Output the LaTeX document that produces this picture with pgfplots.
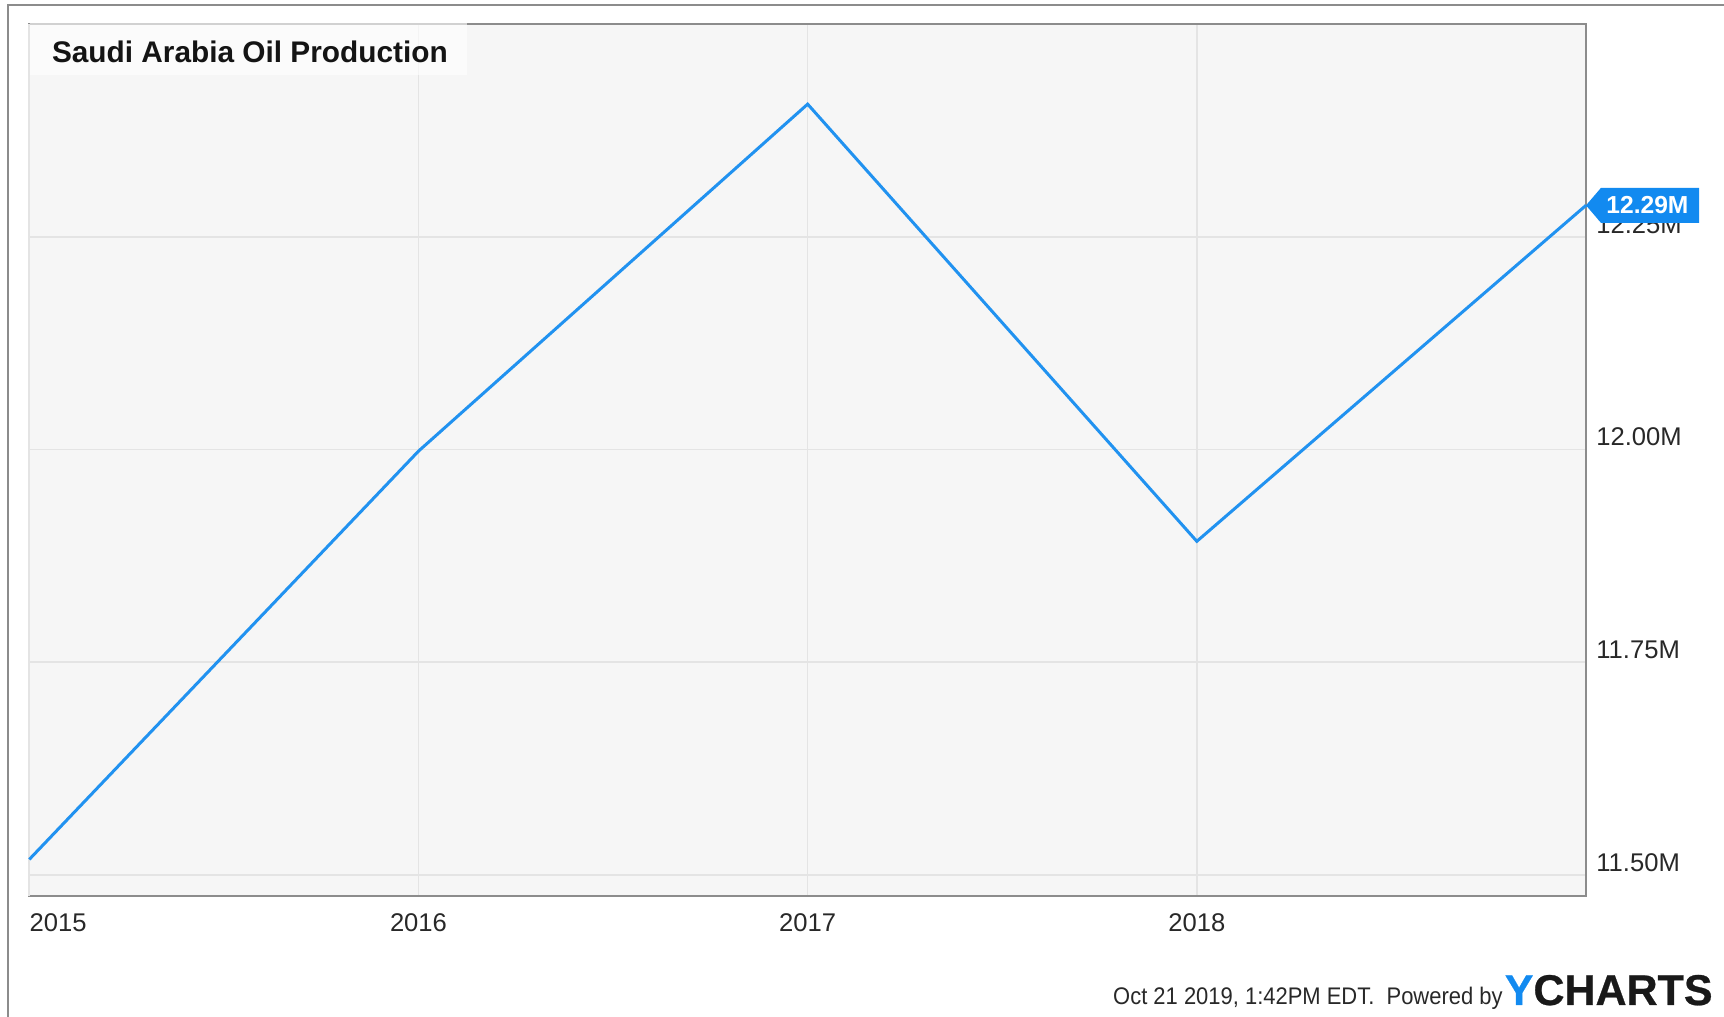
\documentclass[border=0pt]{standalone}
\usepackage{pgfplots}
\pgfplotsset{compat=1.18}
\usepackage{fontspec}
\setmainfont{Liberation Sans}
\newfontfamily\ychfont[FakeBold=0.6]{Liberation Sans Bold}
\usepackage{graphicx}
\definecolor{ylinecol}{RGB}{33,146,240}
\definecolor{ytagcol}{RGB}{18,138,240}
\definecolor{plotbg}{RGB}{246,246,246}
\definecolor{gridcol}{RGB}{228,228,228}
\definecolor{framecol}{RGB}{140,140,140}
\definecolor{labcol}{RGB}{40,40,40}
\begin{document}
\begin{tikzpicture}[x=1pt,y=1pt]
\useasboundingbox (0,0) rectangle (862,508.5);
\draw[line width=1pt, color=framecol] (4.2,0) -- (4.2,505.8) -- (862,505.8);
\begin{axis}[
  at={(14.65pt,60.5pt)}, anchor=south west,
  scale only axis, width=778.35pt, height=435.9pt,
  xmin=2015, xmax=2019, ymin=11.475, ymax=12.50,
  clip=false,
  axis background/.style={fill=plotbg},
  axis line style={framecol, line width=1pt},
  grid=major,
  major grid style={gridcol, line width=0.8pt},
  tick style={draw=none},
  major tick length=0pt,
  xtick={2016,2017,2018}, xticklabels={2016,2017,2018},
  extra x ticks={2015}, extra x tick labels={2015},
  extra x tick style={xticklabel style={anchor=base west}},
  xticklabel style={font=\fontsize{12.8}{14}\selectfont, text=labcol, inner sep=0pt, anchor=base, yshift=-17.8pt},
  ytick={11.5,11.75,12,12.25},
  yticklabels={11.50M,11.75M,12.00M,12.25M},
  yticklabel pos=right,
  yticklabel style={font=\fontsize{12.8}{14}\selectfont, text=labcol, inner sep=0pt, anchor=base west, xshift=5pt, yshift=1.8pt},
]
\addplot[ylinecol, line width=1.5pt, mark=none] coordinates {
  (2015,11.518) (2016,11.998) (2017,12.406) (2018,11.892) (2019,12.287)
};
\fill[ytagcol] (axis cs:2019,12.287) -- ++(7.5pt,8.75pt) -- ++(49pt,0pt) -- ++(0pt,-17.5pt) -- ++(-49pt,0pt) -- cycle;
\node[text=white, font=\bfseries\fontsize{12.3}{14}\selectfont, anchor=west, inner sep=0pt] at ([xshift=10pt]axis cs:2019,12.287) {12.29M};
\end{axis}
\fill[white, opacity=0.6] (15.2,471.1) rectangle (233.5,497);
\node[anchor=base west, inner sep=0pt, font=\bfseries\fontsize{14.9}{17}\selectfont, text=black!92] at (25.8,477.4) {Saudi Arabia Oil Production};
\node[anchor=base east, inner sep=0pt, font=\fontsize{12}{14}\selectfont, text=labcol] at (751.5,6) {\scalebox{0.915}[1]{Oct 21 2019, 1:42PM EDT.\ \ Powered by}};
\node[anchor=base east, inner sep=0pt, font=\ychfont\fontsize{21.5}{24}\selectfont] at (856.5,6) {\textcolor{ytagcol}{Y}\textcolor{black!90}{CHARTS}};
\end{tikzpicture}
\end{document}
